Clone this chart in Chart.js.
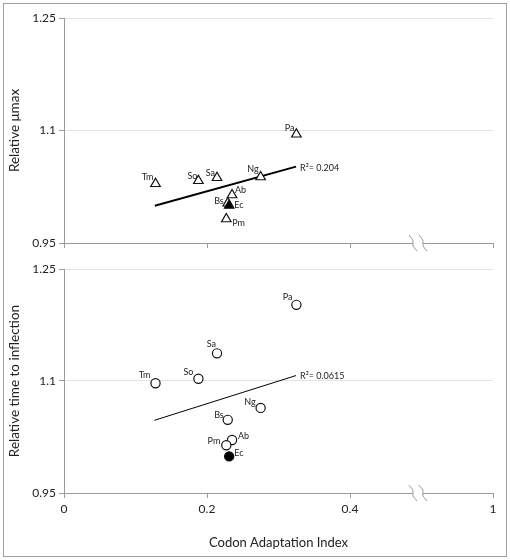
<!DOCTYPE html>
<html>
<head>
<meta charset="utf-8">
<script src="https://cdn.jsdelivr.net/npm/chart.js@4.4.0/dist/chart.umd.min.js"></script>
<style>
  body { margin: 0; background: #fff; }
  #frame { position: absolute; left: 3px; top: 3px; width: 502px; height: 552px; border: 1px solid #a0a0a0; }
  canvas { position: absolute; left: 0; }
  #top { top: 0; }
  #bottom { top: 258px; }
</style>
</head>
<body>
<div id="frame"></div>
<canvas id="top" width="510" height="258"></canvas>
<canvas id="bottom" width="510" height="302"></canvas>
<script>
// organisms, same order in both panels
const species = ['Tm', 'So', 'Sa', 'Ng', 'Pa', 'Ab', 'Bs', 'Ec', 'Pm'];
const cai = [0.128, 0.188, 0.214, 0.275, 0.325, 0.235, 0.229, 0.231, 0.227];
const relMumax = [1.029, 1.033, 1.037, 1.038, 1.095, 1.014, 1.003, 1.000, 0.982];
const relInflection = [1.097, 1.103, 1.137, 1.064, 1.202, 1.021, 1.048, 0.999, 1.014];
const filledSpecies = ['Ec'];

// linear fits as drawn
const fitMumaxX = [0.127, 0.3245];
const fitMumaxY = [0.9997, 1.0518];
const fitInflectionX = [0.1263, 0.3245];
const fitInflectionY = [1.0473, 1.1073];
const r2Mumax = 'R\u00B2= 0.204';
const r2Inflection = 'R\u00B2= 0.0615';

const xTickValues = [0, 0.2, 0.4, 0.6];
const xTickLabels = ['0', '0.2', '0.4', '1'];
const yTickValues = [0.95, 1.1, 1.25];
const yTickLabels = ['0.95', '1.1', '1.25'];
const axisBreakAt = 0.495;

// label placement per species [dx, dy, align] (pixels from the marker)
const labelsTop = [[-2, -7, 'right'], [-1, -5, 'right'], [-2, -5, 'right'], [-2, -8, 'right'], [-2, -6, 'right'],
                   [3, -5, 'left'], [-4, -2, 'right'], [5, 0, 'left'], [6, 4, 'left']];
const labelsBottom = [[-5, -8, 'right'], [-5, -7, 'right'], [-1, -9, 'right'], [-5, -6, 'right'], [-4, -8, 'right'],
                      [6, -4, 'left'], [-4, -5, 'right'], [5, -3, 'left'], [-6, -4, 'right']];

const FONT = 'Lato, "Liberation Sans", sans-serif';
const AXIS_GREY = '#9a9a9a';

function toPoints(xs, ys) {
    return xs.map((x, i) => ({ x: x, y: ys[i] }));
}

const speciesLabels = {
    id: 'speciesLabels',
    afterDatasetsDraw(chart, args, opts) {
        const ctx = chart.ctx;
        const meta = chart.getDatasetMeta(0);
        ctx.save();
        ctx.font = '9px ' + FONT;
        ctx.fillStyle = '#222';
        ctx.textBaseline = 'middle';
        meta.data.forEach((pt, i) => {
            const [dx, dy, align] = opts.place[i];
            ctx.textAlign = align;
            ctx.fillText(species[i], pt.x + dx, pt.y + dy);
        });
        // R² next to the end of the fit line
        const line = chart.getDatasetMeta(1).data;
        const end = line[line.length - 1];
        ctx.textAlign = 'left';
        ctx.fillText(opts.r2, end.x + 4, end.y + 1);
        ctx.restore();
    }
};

const axisBreak = {
    id: 'axisBreak',
    afterDraw(chart) {
        const ctx = chart.ctx;
        const y = chart.chartArea.bottom;
        const px = chart.scales.x.getPixelForValue(axisBreakAt);
        ctx.save();
        ctx.fillStyle = '#fff';
        ctx.fillRect(px - 5, y - 2, 10, 4);
        ctx.strokeStyle = AXIS_GREY;
        ctx.lineWidth = 1;
        [px - 5, px + 5].forEach(cx => {
            ctx.beginPath();
            ctx.moveTo(cx - 4, y - 8);
            ctx.lineTo(cx, y - 3);
            ctx.lineTo(cx, y + 3);
            ctx.lineTo(cx + 4, y + 8);
            ctx.stroke();
        });
        ctx.restore();
    }
};

function makePanel(canvasId, yValues, fitX, fitY, cfg) {
    const fill = species.map(s => filledSpecies.includes(s) ? '#000' : '#fff');
    return new Chart(document.getElementById(canvasId), {
        type: 'scatter',
        data: {
            datasets: [
                {
                    data: toPoints(cai, yValues),
                    pointStyle: cfg.marker,
                    pointRadius: cfg.radius,
                    pointBackgroundColor: fill,
                    pointBorderColor: '#111',
                    pointBorderWidth: 1.2,
                    order: 0
                },
                {
                    type: 'line',
                    data: toPoints(fitX, fitY),
                    borderColor: '#000',
                    borderWidth: cfg.lineWidth,
                    pointRadius: 0,
                    fill: false,
                    order: 1
                }
            ]
        },
        options: {
            responsive: false,
            animation: false,
            events: [],
            layout: { padding: { left: 0, right: 17, top: cfg.padTop, bottom: cfg.padBottom } },
            plugins: {
                legend: { display: false },
                tooltip: { enabled: false },
                speciesLabels: { place: cfg.place, r2: cfg.r2 }
            },
            scales: {
                x: {
                    type: 'linear',
                    min: 0, max: 0.6,
                    afterBuildTicks: s => { s.ticks = xTickValues.map(v => ({ value: v })); },
                    afterFit: s => { s.height = cfg.xHeight; },
                    ticks: {
                        display: cfg.xLabels,
                        padding: 4,
                        color: '#222',
                        font: { family: FONT, size: 12 },
                        callback: (v, i) => xTickLabels[i]
                    },
                    grid: { drawOnChartArea: false, drawTicks: true, tickLength: 5, color: AXIS_GREY },
                    border: { color: AXIS_GREY },
                    title: {
                        display: cfg.xLabels,
                        text: 'Codon Adaptation Index',
                        color: '#222',
                        font: { family: FONT, size: 13 },
                        padding: { top: 20, bottom: 5 }
                    }
                },
                y: {
                    min: 0.95, max: 1.25,
                    afterBuildTicks: s => { s.ticks = yTickValues.map(v => ({ value: v })); },
                    afterFit: s => { s.width = 64; },
                    ticks: {
                        padding: 3,
                        color: '#222',
                        font: { family: FONT, size: 12 },
                        callback: (v, i) => yTickLabels[i]
                    },
                    grid: { color: '#e2e2e2', tickLength: 5, tickColor: AXIS_GREY },
                    border: { color: AXIS_GREY },
                    title: {
                        display: true,
                        text: cfg.yTitle,
                        color: '#222',
                        font: { family: FONT, size: 13.5 },
                        padding: { top: 7, bottom: 0 }
                    }
                }
            }
        },
        plugins: [speciesLabels, axisBreak]
    });
}

makePanel('top', relMumax, fitMumaxX, fitMumaxY, {
    marker: 'triangle', radius: 5.5, lineWidth: 2, place: labelsTop, r2: r2Mumax,
    yTitle: 'Relative \u03BCmax', padTop: 18, padBottom: 0, xHeight: 15, xLabels: false
});
makePanel('bottom', relInflection, fitInflectionX, fitInflectionY, {
    marker: 'circle', radius: 4.6, lineWidth: 1, place: labelsBottom, r2: r2Inflection,
    yTitle: 'Relative time to inflection', padTop: 11, padBottom: 4, xHeight: 63, xLabels: true
});
</script>
</body>
</html>
